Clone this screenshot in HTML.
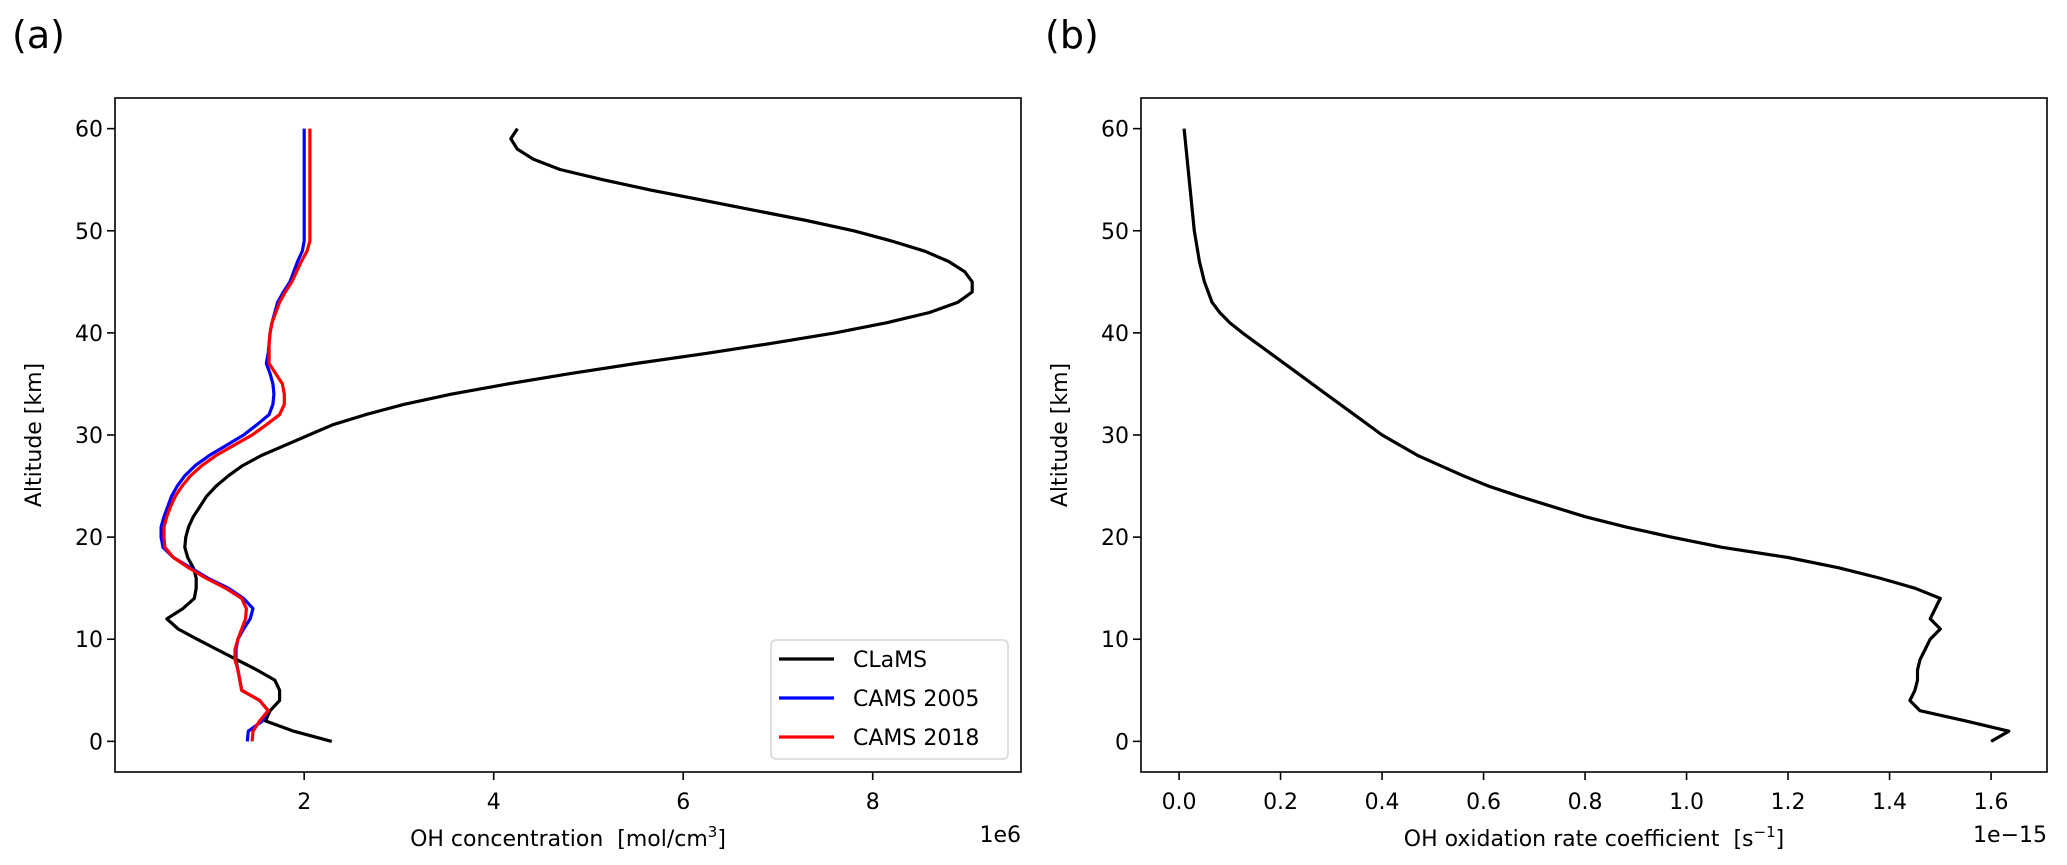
<!DOCTYPE html>
<html><head><meta charset="utf-8"><style>
html,body{margin:0;padding:0;background:#fff;}
svg{display:block;font-family:"DejaVu Sans","Liberation Sans",sans-serif;}
</style></head><body>
<svg id="fig" width="2067" height="865" viewBox="0 0 2067 865" xmlns="http://www.w3.org/2000/svg">
<rect width="2067" height="865" fill="#fff"/>
<text x="12" y="48" font-size="38">(a)</text>
<text x="1045" y="48" font-size="38">(b)</text>
<g id="pa"></g>
<g id="pb"></g>
</svg>
<script>
const altitudes = [60,59,58,57,56,55,54,53,52,51,50,49,48,47,46,45,44,43,42,41,40,39,38,37,36,35,34,33,32,31,30,29,28,27,26,25,24,23,22,21,20,19,18,17,16,15,14,13,12,11,10,9,8,7,6,5,4,3,2,1,0];
const clams = [4.25,4.18,4.25,4.42,4.7,5.15,5.65,6.2,6.75,7.3,7.8,8.2,8.55,8.8,8.97,9.05,9.05,8.9,8.6,8.15,7.6,6.95,6.25,5.5,4.8,4.15,3.55,3.05,2.65,2.3,2.05,1.8,1.55,1.35,1.2,1.07,0.97,0.9,0.83,0.78,0.75,0.74,0.77,0.83,0.86,0.86,0.84,0.72,0.55,0.67,0.87,1.08,1.29,1.5,1.69,1.74,1.74,1.64,1.59,1.89,2.29];
const cams2005 = [2.0,2.0,2.0,2.0,2.0,2.0,2.0,2.0,2.0,2.0,2.0,2.0,1.98,1.93,1.89,1.85,1.78,1.72,1.69,1.66,1.64,1.63,1.62,1.6,1.64,1.67,1.68,1.67,1.63,1.5,1.36,1.18,1.0,0.85,0.74,0.66,0.6,0.56,0.52,0.49,0.49,0.51,0.62,0.8,0.98,1.2,1.36,1.46,1.43,1.36,1.3,1.28,1.28,1.3,1.32,1.34,1.53,1.62,1.56,1.41,1.4];
const cams2018 = [2.06,2.06,2.06,2.06,2.06,2.06,2.06,2.06,2.06,2.06,2.06,2.06,2.03,1.97,1.92,1.87,1.8,1.74,1.7,1.66,1.64,1.63,1.63,1.63,1.7,1.77,1.79,1.79,1.74,1.6,1.45,1.26,1.07,0.92,0.8,0.71,0.64,0.59,0.55,0.52,0.52,0.53,0.62,0.78,0.96,1.17,1.34,1.39,1.38,1.34,1.3,1.27,1.27,1.3,1.32,1.34,1.53,1.62,1.53,1.46,1.45];
const rateAlt = [60,55,50,47,45,43,42,41,40,38,36,34,32,30,28,26,25,24,22,21,20,19,18,17,16,15,14,13,12,11,10,9,8,7,6,5,4,3,2,1,0];
const rate = [0.01,0.02,0.03,0.04,0.05,0.065,0.08,0.1,0.125,0.18,0.235,0.29,0.345,0.4,0.47,0.56,0.61,0.67,0.8,0.88,0.97,1.07,1.2,1.3,1.38,1.45,1.5,1.49,1.48,1.5,1.48,1.47,1.46,1.455,1.455,1.45,1.44,1.46,1.55,1.635,1.6];
const yTicks = [0,10,20,30,40,50,60];
const xTicksA = [2,4,6,8];
const xTicksB = [0.0,0.2,0.4,0.6,0.8,1.0,1.2,1.4,1.6];

const NS = "http://www.w3.org/2000/svg";
function mk(parent, tag, attrs, txt){
  const e = document.createElementNS(NS, tag);
  for (const k in attrs) e.setAttribute(k, attrs[k]);
  if (txt !== undefined) e.textContent = txt;
  parent.appendChild(e);
  return e;
}
const yTop = 98, yBot = 772, yMin = -3, yMax = 63;
const yScale = v => yBot - (v - yMin) / (yMax - yMin) * (yBot - yTop);

function axes(g, L, R, xMin, xMax, xTicks, fmt, xlabelParts, offset, prefix){
  const xs = v => L + (v - xMin) / (xMax - xMin) * (R - L);
  const frame = mk(g, 'rect', {x:L, y:yTop, width:R-L, height:yBot-yTop, fill:'none', stroke:'#000', 'stroke-width':1.6});
  
  
  yTicks.forEach(t => {
    const y = yScale(t);
    const tk = mk(g, 'line', {x1:L-8, x2:L, y1:y, y2:y, stroke:'#000', 'stroke-width':1.6});
    
    
    const lb = mk(g, 'text', {x:L-12, y:y+8, 'font-size':22, 'text-anchor':'end'}, String(t));
    
    
  });
  xTicks.forEach(t => {
    const x = xs(t);
    const tk = mk(g, 'line', {x1:x, x2:x, y1:yBot, y2:yBot+8, stroke:'#000', 'stroke-width':1.6});
    
    
    const lb = mk(g, 'text', {x:x, y:yBot+37, 'font-size':22, 'text-anchor':'middle'}, fmt(t));
    
    
  });
  const yl = mk(g, 'text', {x:0, y:0, 'font-size':22, 'text-anchor':'middle', transform:`translate(${L-74},${(yTop+yBot)/2}) rotate(-90)`}, 'Altitude [km]');
  
  
  const xl = mk(g, 'text', {x:(L+R)/2, y:846, 'font-size':22, 'text-anchor':'middle'});
  
  
  mk(xl, 'tspan', {}, xlabelParts[0]);
  mk(xl, 'tspan', {dy:-9, 'font-size':15}, xlabelParts[1]);
  mk(xl, 'tspan', {dy:9}, xlabelParts[2]);
  const off = mk(g, 'text', {x:R, y:842, 'font-size':22, 'text-anchor':'end'}, offset);
  
  
  return xs;
}
function line(g, xs, xv, yv, color, name){
  const d = xv.map((v,i) => (i ? 'L' : 'M') + xs(v).toFixed(1) + ',' + yScale(yv[i]).toFixed(1)).join(' ');
  const p = mk(g, 'path', {d:d, fill:'none', stroke:color, 'stroke-width':3.2, 'stroke-linejoin':'round'});
  
  
}

// Panel (a)
const ga = document.getElementById('pa');
const xsA = axes(ga, 115, 1021, 2 - (304.2-115)/94.75, 2 + (1021-304.2)/94.75, xTicksA, t => String(t),
  ['OH concentration \u00a0[mol/cm', '3', ']'], '1e6', 'panel-a');
line(ga, xsA, clams, altitudes, '#000', 'clams-line');
line(ga, xsA, cams2005, altitudes, '#0000ff', 'cams-2005-line');
line(ga, xsA, cams2018, altitudes, '#ff0000', 'cams-2018-line');
// legend
const lg = mk(ga, 'g', {});


mk(lg, 'rect', {x:771, y:640, width:237, height:119, rx:5, fill:'#fff', stroke:'#d6d6d6', 'stroke-width':1.6});
const legNames = ['CLaMS','CAMS 2005','CAMS 2018'];
const legColors = ['#000','#0000ff','#ff0000'];
legNames.forEach((n,i) => {
  const y = 659 + i*39;
  const e = mk(lg, 'g', {});
  
  
  mk(e, 'line', {x1:779, x2:834, y1:y, y2:y, stroke:legColors[i], 'stroke-width':3.2});
  mk(e, 'text', {x:853, y:y+8, 'font-size':22}, n);
});

// Panel (b)
const gb = document.getElementById('pb');
const xsB = axes(gb, 1141, 2047, -0.075, -0.075 + (2047-1141)/507.5, xTicksB, t => t.toFixed(1),
  ['OH oxidation rate coefficient \u00a0[s', '\u22121', ']'], '1e\u221215', 'panel-b');
line(gb, xsB, rate, rateAlt, '#000', 'rate-coefficient-line');
</script>
</body></html>
